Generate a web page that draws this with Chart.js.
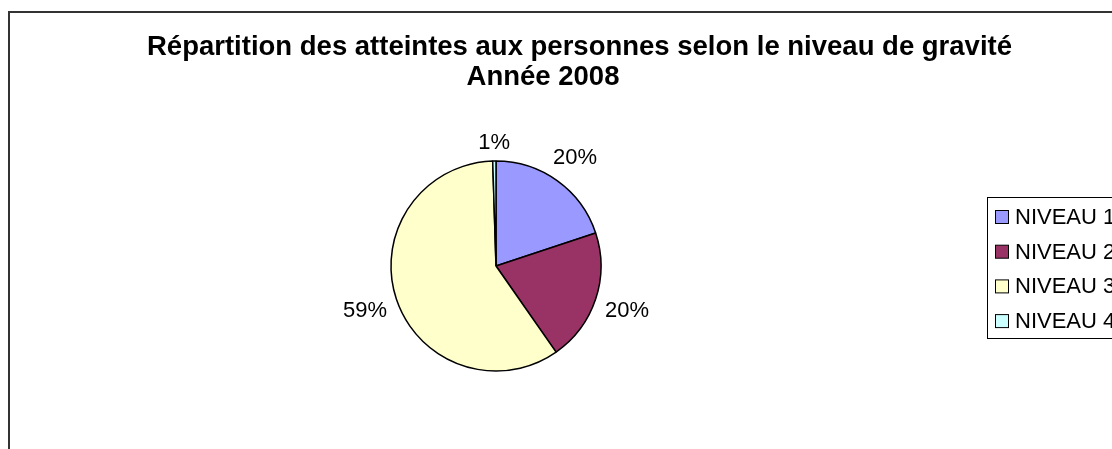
<!DOCTYPE html>
<html>
<head>
<meta charset="utf-8">
<script src="https://cdn.jsdelivr.net/npm/chart.js@4/dist/chart.umd.min.js"></script>
<style>
  html, body { margin: 0; padding: 0; background: #fff; overflow: hidden; }
  #wrap { position: absolute; left: 0; top: 0; width: 1160px; height: 470px; }
</style>
</head>
<body>
<div id="wrap"><canvas id="chart"></canvas></div>
<script>
const categories = ["NIVEAU 1", "NIVEAU 2", "NIVEAU 3", "NIVEAU 4"];
const values = [19.9, 20.4, 59.2, 0.5];
const sliceColors = ["#9999FF", "#993366", "#FFFFCC", "#CCFFFF"];
const titleLines = [
  "Répartition des atteintes aux personnes selon le niveau de gravité",
  "Année 2008",
];

const FONT = "'Liberation Sans', Arial, sans-serif";

// frame around the whole chart (cropped at right and bottom like the source)
const framePlugin = {
  id: "frame",
  beforeDraw(chart) {
    const ctx = chart.ctx;
    ctx.save();
    ctx.strokeStyle = "#333";
    ctx.lineWidth = 2;
    ctx.strokeRect(9, 12, 1142, 450);
    ctx.restore();
  },
};

// two line title, each line centred on its own spot like the Excel original
const titlePlugin = {
  id: "bigTitle",
  afterDraw(chart) {
    const ctx = chart.ctx;
    const centres = [579.5, 543];
    ctx.save();
    ctx.font = "bold 27.5px " + FONT;
    ctx.fillStyle = "#000";
    ctx.textAlign = "center";
    ctx.textBaseline = "alphabetic";
    titleLines.forEach((line, i) => {
      ctx.fillText(line, centres[i], 55 + i * 30);
    });
    ctx.restore();
  },
};

// percentage labels outside each slice
const pctLabels = {
  id: "pctLabels",
  afterDatasetsDraw(chart) {
    const ctx = chart.ctx;
    const meta = chart.getDatasetMeta(0);
    const data = chart.data.datasets[0].data;
    const total = data.reduce((a, b) => a + b, 0);
    ctx.save();
    ctx.font = "22px " + FONT;
    ctx.fillStyle = "#000";
    ctx.textAlign = "center";
    ctx.textBaseline = "middle";
    meta.data.forEach((arc, i) => {
      const mid = (arc.startAngle + arc.endAngle) / 2;
      const ux = Math.cos(mid);
      const uy = Math.sin(mid);
      const txt = Math.round((data[i] / total) * 100) + "%";
      const hw = ctx.measureText(txt).width / 2;
      const dist = arc.outerRadius + 9 + hw * Math.abs(ux) + 10 * Math.abs(uy);
      ctx.fillText(txt, arc.x + ux * dist, arc.y + uy * dist + 1);
    });
    ctx.restore();
  },
};

// boxed legend on the right
const boxLegend = {
  id: "boxLegend",
  afterDraw(chart) {
    const ctx = chart.ctx;
    const ds = chart.data.datasets[0];
    const x0 = 987.5, y0 = 197.5, step = 34.7;
    ctx.save();
    ctx.fillStyle = "#fff";
    ctx.strokeStyle = "#000";
    ctx.lineWidth = 1;
    ctx.fillRect(x0, y0, 200, 141);
    ctx.strokeRect(x0, y0, 200, 141);
    ctx.font = "22px " + FONT;
    ctx.textBaseline = "middle";
    chart.data.labels.forEach((lab, i) => {
      const cy = 217 + i * step;
      ctx.fillStyle = ds.backgroundColor[i];
      ctx.fillRect(995.5, cy - 6.5, 13, 13);
      ctx.strokeStyle = "#000";
      ctx.strokeRect(995.5, cy - 6.5, 13, 13);
      ctx.fillStyle = "#000";
      ctx.fillText(lab, 1015, cy + 1);
    });
    ctx.restore();
  },
};

new Chart(document.getElementById("chart"), {
  type: "pie",
  data: {
    labels: categories,
    datasets: [
      {
        data: values,
        backgroundColor: sliceColors,
        borderColor: "#000",
        borderWidth: 1.5,
        hoverOffset: 0,
        offset: 0,
      },
    ],
  },
  options: {
    responsive: true,
    maintainAspectRatio: false,
    animation: false,
    radius: 105,
    events: [],
    layout: { padding: { left: 250, right: 418, top: 140, bottom: 78 } },
    plugins: {
      legend: { display: false },
      tooltip: { enabled: false },
      title: { display: false },
    },
  },
  plugins: [framePlugin, pctLabels, boxLegend, titlePlugin],
});
</script>
</body>
</html>
